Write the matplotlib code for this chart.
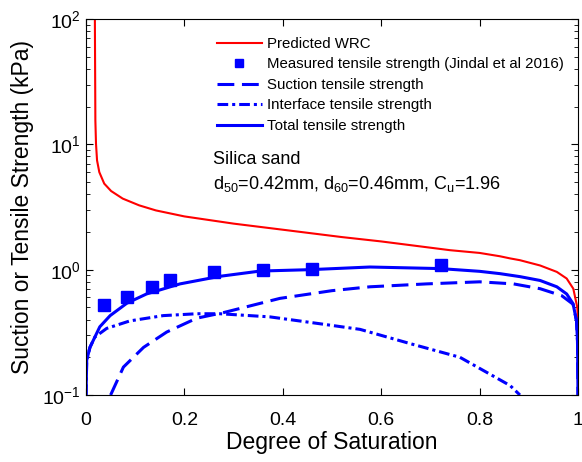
import matplotlib
matplotlib.use("Agg")
import matplotlib.pyplot as plt
import numpy as np

plt.rcParams['font.family'] = ['Liberation Sans', 'DejaVu Sans']
plt.rcParams['mathtext.default'] = 'regular'

# predicted water retention curve (suction)
s_wrc = [0.018, 0.019, 0.0203, 0.0224, 0.027, 0.037, 0.051, 0.0746, 0.108, 0.142,
         0.2, 0.3, 0.41, 0.52, 0.6, 0.74, 0.8, 0.841, 0.862, 0.882, 0.923,
         0.957, 0.977, 0.9905, 0.9986, 1.0]
v_wrc = [100, 15.5, 10.1, 7.45, 6.0, 4.86, 4.24, 3.69, 3.26, 2.97,
         2.66, 2.33, 2.06, 1.82, 1.68, 1.43, 1.36, 1.28, 1.23, 1.19, 1.08,
         0.96, 0.85, 0.705, 0.50, 0.39]

# measured tensile strength (Jindal et al 2016)
s_meas = [0.037, 0.084, 0.135, 0.171, 0.261, 0.36, 0.46, 0.722]
v_meas = [0.52, 0.61, 0.73, 0.82, 0.95, 0.99, 1.01, 1.08]

# suction tensile strength
s_suc = [0.05, 0.076, 0.117, 0.164, 0.225, 0.28, 0.394, 0.5, 0.577, 0.692, 0.8,
         0.869, 0.923, 0.967, 0.99, 0.997, 0.999, 1.0]
v_suc = [0.1, 0.167, 0.24, 0.318, 0.41, 0.455, 0.59, 0.68, 0.73, 0.77, 0.8,
         0.77, 0.705, 0.62, 0.53, 0.39, 0.27, 0.1]

# interface tensile strength
s_int = [0.0, 0.0014, 0.008, 0.018, 0.042, 0.089, 0.157, 0.225, 0.272, 0.374,
         0.476, 0.557, 0.659, 0.76, 0.862, 0.882]
v_int = [0.1, 0.19, 0.24, 0.29, 0.34, 0.39, 0.43, 0.445, 0.445, 0.42,
         0.37, 0.334, 0.257, 0.2, 0.119, 0.1]

# total tensile strength
s_tot = [0.0, 0.0014, 0.008, 0.018, 0.028, 0.049, 0.083, 0.123, 0.191, 0.272,
         0.354, 0.455, 0.577, 0.72, 0.8, 0.841, 0.882, 0.923, 0.957, 0.977,
         0.99, 0.997, 0.999, 1.0]
v_tot = [0.1, 0.19, 0.24, 0.29, 0.35, 0.43, 0.54, 0.64, 0.77, 0.885,
         0.975, 1.0, 1.05, 1.02, 0.97, 0.93, 0.88, 0.82, 0.73, 0.64,
         0.535, 0.39, 0.27, 0.1]

fig = plt.figure(figsize=(5.82, 4.62), dpi=100)
ax = fig.add_axes([0.1478, 0.145, 0.8453, 0.8139])

blue = '#0000ff'
ax.plot(s_wrc, v_wrc, '-', color='#ff0000', lw=1.5, label='Predicted WRC')
ax.plot(s_meas, v_meas, 's', color=blue, ms=8, ls='none',
        label='Measured tensile strength (Jindal et al 2016)')
ax.plot(s_suc, v_suc, '--', color=blue, lw=2.2, dashes=(5.5, 2.5),
        label='Suction tensile strength')
ax.plot(s_int, v_int, '-.', color=blue, lw=2.2, dashes=(3.5, 1.3, 1.0, 1.3),
        label='Interface tensile strength')
ax.plot(s_tot, v_tot, '-', color=blue, lw=2.2, label='Total tensile strength')

ax.set_yscale('log')
ax.set_xlim(0, 1)
ax.set_ylim(0.1, 100)
ax.set_xticks([0, 0.2, 0.4, 0.6, 0.8, 1])
ax.set_xticklabels(['0', '0.2', '0.4', '0.6', '0.8', '1'])
ax.tick_params(which='both', direction='in', top=True, right=True, labelsize=14)
ax.tick_params(which='major', length=5, width=0.8)
ax.tick_params(which='minor', length=3, width=0.6)
ax.tick_params(axis='x', pad=12)

ax.set_xlabel('Degree of Saturation', fontsize=16.5, labelpad=2)
ax.set_ylabel('Suction or Tensile Strength (kPa)', fontsize=16.5, labelpad=6)

ax.legend(loc='upper left', bbox_to_anchor=(0.25, 0.972), frameon=False,
          fontsize=10.8, handlelength=3.0, handletextpad=0.35,
          labelspacing=0.43, borderpad=0, markerscale=0.7)

ax.text(0.258, 0.627, 'Silica sand', transform=ax.transAxes, fontsize=13,
        va='center')
ax.text(0.258, 0.56, r'd$_{50}$=0.42mm, d$_{60}$=0.46mm, C$_{u}$=1.96',
        transform=ax.transAxes, fontsize=13, va='center')

fig.savefig('out.png', dpi=100)
